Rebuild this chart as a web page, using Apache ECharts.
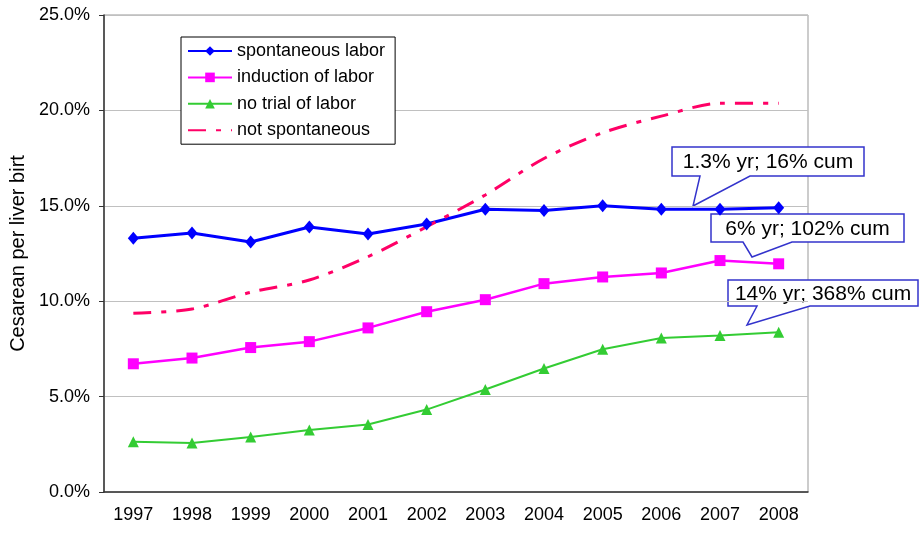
<!DOCTYPE html>
<html>
<head>
<meta charset="utf-8">
<script src="https://cdn.jsdelivr.net/npm/echarts@6/dist/echarts.min.js"></script>
<style>
  html, body { margin: 0; padding: 0; background: #fff; }
  #main { width: 920px; height: 533px; }
</style>
</head>
<body>
<div id="main"></div>
<script>
// years and rates (percent of live births)
var years = ['1997', '1998', '1999', '2000', '2001', '2002', '2003', '2004', '2005', '2006', '2007', '2008'];
var spontaneous = [13.3, 13.57, 13.1, 13.89, 13.52, 14.05, 14.82, 14.75, 15.0, 14.82, 14.82, 14.9];
var induction = [6.72, 7.02, 7.57, 7.88, 8.6, 9.45, 10.08, 10.92, 11.27, 11.48, 12.13, 11.96];
var noTrial = [2.63, 2.57, 2.88, 3.25, 3.54, 4.32, 5.37, 6.47, 7.48, 8.07, 8.2, 8.37];
var notSpontaneous = [9.37, 9.59, 10.47, 11.11, 12.33, 13.9, 15.57, 17.48, 18.83, 19.7, 20.37, 20.37];
var yTicks = [0, 5, 10, 15, 20, 25];
var callouts = ['1.3% yr; 16% cum', '6% yr; 102% cum', '14% yr; 368% cum'];

var font = '"Liberation Sans", Arial, sans-serif';
var chart = echarts.init(document.getElementById('main'));

// speech-bubble box with a pointer tail
function bubble(x1, y1, x2, y2, t1, t2, tipX, tipY, label) {
    return {
        type: 'group',
        z: 100,
        children: [
            {
                type: 'polygon',
                shape: { points: [[x1, y1], [x2, y1], [x2, y2], [t2, y2], [tipX, tipY], [t1, y2], [x1, y2]] },
                style: { fill: '#fff', stroke: '#3333cc', lineWidth: 1.5 }
            },
            {
                type: 'text',
                x: (x1 + x2) / 2,
                y: (y1 + y2) / 2 + 1,
                style: { text: label, fill: '#000', font: '21px ' + font, align: 'center', verticalAlign: 'middle' }
            }
        ]
    };
}

chart.setOption({
    backgroundColor: '#fff',
    animation: false,
    textStyle: { fontFamily: font },
    grid: {
        left: 102, right: 112, top: 15, bottom: 41,
        show: true, borderColor: '#999', borderWidth: 1
    },
    legend: {
        orient: 'vertical',
        left: 181, top: 37,
        padding: [5, 10, 5, 6],
        itemWidth: 44, itemHeight: 12, itemGap: 8.4,
        backgroundColor: '#fff',
        borderColor: '#000', borderWidth: 1,
        textStyle: { fontSize: 18, color: '#000' },
        data: [
            'spontaneous labor',
            'induction of labor',
            'no trial of labor',
            { name: 'not spontaneous', itemStyle: { opacity: 0 } }
        ]
    },
    xAxis: {
        type: 'category',
        data: years,
        boundaryGap: true,
        axisLine: { lineStyle: { color: '#333', width: 1.5 } },
        axisTick: { length: 5, lineStyle: { color: '#333' } },
        axisLabel: { fontSize: 18, color: '#000', margin: 14 }
    },
    yAxis: {
        type: 'value',
        min: yTicks[0], max: yTicks[yTicks.length - 1], interval: 5,
        name: 'Cesarean per liver birt',
        nameLocation: 'middle',
        nameRotate: 90,
        nameGap: 76,
        nameTextStyle: { fontSize: 20, color: '#000' },
        axisLine: { show: true, lineStyle: { color: '#333', width: 1.5 } },
        axisTick: { show: true, length: 5, lineStyle: { color: '#333' } },
        axisLabel: {
            fontSize: 18, color: '#000', margin: 14,
            formatter: function (v) { return v.toFixed(1) + '%'; }
        },
        splitLine: { lineStyle: { color: '#c0c0c0', width: 1 } }
    },
    series: [
        {
            name: 'spontaneous labor', type: 'line', data: spontaneous,
            symbol: 'diamond', symbolSize: [11, 13],
            itemStyle: { color: '#0000ff' },
            lineStyle: { color: '#0000ff', width: 3 }
        },
        {
            name: 'induction of labor', type: 'line', data: induction,
            symbol: 'rect', symbolSize: 11,
            itemStyle: { color: '#ff00ff' },
            lineStyle: { color: '#ff00ff', width: 2.5 }
        },
        {
            name: 'no trial of labor', type: 'line', data: noTrial,
            symbol: 'triangle', symbolSize: 11,
            itemStyle: { color: '#33cc33' },
            lineStyle: { color: '#33cc33', width: 2 }
        },
        {
            name: 'not spontaneous', type: 'line', data: notSpontaneous,
            symbol: 'none', smooth: 0.3,
            itemStyle: { color: '#ff0066' },
            lineStyle: { color: '#ff0066', width: 3, type: [18, 10, 5, 10] }
        }
    ],
    graphic: [
        bubble(672, 147, 864, 176, 700, 750, 693, 206, callouts[0]),
        bubble(711, 214, 904, 242, 743, 792, 752, 257, callouts[1]),
        bubble(728, 280, 918, 306, 757, 810, 747, 325, callouts[2])
    ]
});
</script>
</body>
</html>
